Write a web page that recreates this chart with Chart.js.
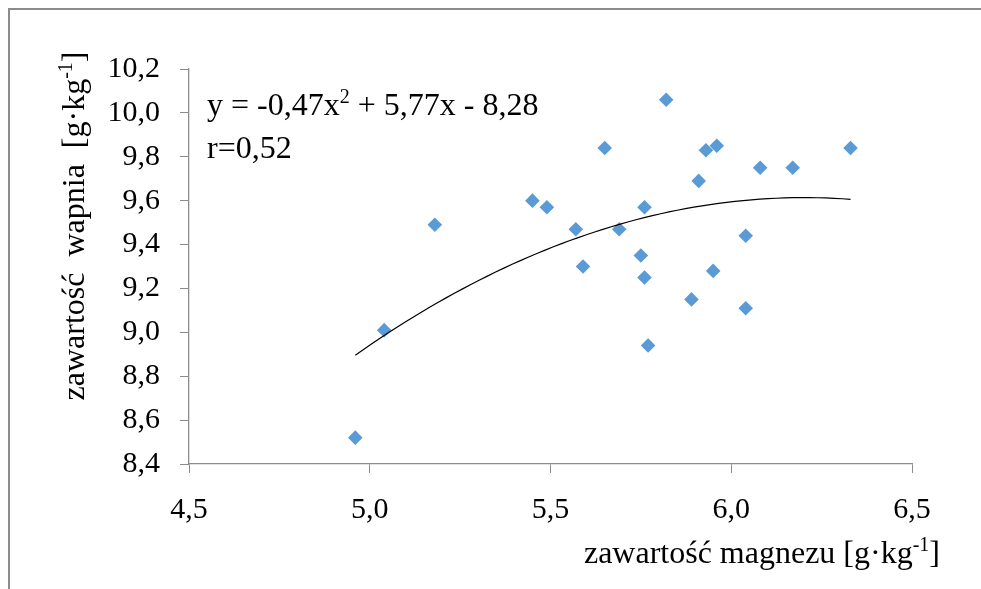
<!DOCTYPE html>
<html>
<head>
<meta charset="utf-8">
<script src="https://cdn.jsdelivr.net/npm/chart.js@4.4.1/dist/chart.umd.min.js"></script>
<style>
  html, body { margin: 0; padding: 0; background: #fff; }
  #wykres { display: block; }
</style>
</head>
<body>
<canvas id="wykres" width="981" height="589"></canvas>
<script>
// zawartość magnezu (oś X) i wapnia (oś Y), g·kg-1
const magnez = [4.96, 5.04, 5.18, 5.45, 5.49, 5.57, 5.59, 5.65, 5.69, 5.75, 5.76, 5.76,
                5.77, 5.82, 5.89, 5.91, 5.93, 5.95, 5.96, 6.04, 6.04, 6.08, 6.17, 6.33];
const wapn   = [8.52, 9.01, 9.49, 9.60, 9.57, 9.47, 9.30, 9.84, 9.47, 9.35, 9.57, 9.25,
                8.94, 10.06, 9.15, 9.69, 9.83, 9.28, 9.85, 9.44, 9.11, 9.75, 9.75, 9.84];

// etykiety osi
const xTicks = [4.5, 5.0, 5.5, 6.0, 6.5];
const yTicks = [8.4, 8.6, 8.8, 9.0, 9.2, 9.4, 9.6, 9.8, 10.0, 10.2];

const wspR = 'r=0,52';

// linia trendu: wielomian 2. stopnia dopasowany metodą najmniejszych kwadratów
function dopasuj(xs, ys) {
  let s = [0, 0, 0, 0, 0], t = [0, 0, 0];
  xs.forEach((x, i) => {
    for (let k = 0; k < 5; k++) s[k] += Math.pow(x, k);
    for (let k = 0; k < 3; k++) t[k] += Math.pow(x, k) * ys[i];
  });
  // układ 3x3 rozwiązany eliminacją Gaussa
  const m = [
    [s[0], s[1], s[2], t[0]],
    [s[1], s[2], s[3], t[1]],
    [s[2], s[3], s[4], t[2]]
  ];
  for (let i = 0; i < 3; i++) {
    for (let j = i + 1; j < 3; j++) {
      const f = m[j][i] / m[i][i];
      for (let k = i; k < 4; k++) m[j][k] -= f * m[i][k];
    }
  }
  const c = [0, 0, 0];
  for (let i = 2; i >= 0; i--) {
    let v = m[i][3];
    for (let k = i + 1; k < 3; k++) v -= m[i][k] * c[k];
    c[i] = v / m[i][i];
  }
  return c; // c0 + c1 x + c2 x^2
}

const wsp = dopasuj(magnez, wapn);
const xMin = Math.min(...magnez), xMax = Math.max(...magnez);
const trend = [];
for (let i = 0; i <= 60; i++) {
  const x = xMin + (xMax - xMin) * i / 60;
  trend.push({ x: x, y: wsp[0] + wsp[1] * x + wsp[2] * x * x });
}

const szary = '#8c8c8c';
const czcionka = '"Liberation Serif", "Times New Roman", serif';
const przecinek = v => Number(v).toFixed(1).replace('.', ',');

// rysuje tekst z indeksem górnym: czesci = [[tekst, czyIndeks], ...]
function tekstZIndeksem(ctx, czesci, x, y, size, align) {
  const duza = size + 'px ' + czcionka;
  const mala = Math.round(size * 0.62) + 'px ' + czcionka;
  let szer = 0;
  czesci.forEach(([t, sup]) => { ctx.font = sup ? mala : duza; szer += ctx.measureText(t).width; });
  let px = align === 'right' ? x - szer : align === 'center' ? x - szer / 2 : x;
  ctx.textAlign = 'left';
  ctx.textBaseline = 'alphabetic';
  czesci.forEach(([t, sup]) => {
    ctx.font = sup ? mala : duza;
    ctx.fillText(t, px, sup ? y - size * 0.36 : y);
    px += ctx.measureText(t).width;
  });
}

const opisy = {
  id: 'opisy',
  beforeDraw(chart) {
    const ctx = chart.ctx;
    ctx.save();
    ctx.strokeStyle = szary;
    ctx.lineWidth = 2;
    ctx.beginPath();
    ctx.moveTo(9, 589);
    ctx.lineTo(9, 9);
    ctx.lineTo(981, 9);
    ctx.stroke();
    ctx.restore();
  },
  afterDraw(chart) {
    const ctx = chart.ctx;
    ctx.save();
    ctx.fillStyle = '#000';
    // równanie i współczynnik korelacji
    tekstZIndeksem(ctx, [['y = -0,47x', false], ['2', true], [' + 5,77x - 8,28', false]], 207, 115, 32, 'left');
    tekstZIndeksem(ctx, [[wspR, false]], 207, 158, 32, 'left');
    // tytuł osi X
    tekstZIndeksem(ctx, [['zawartość magnezu [g·kg', false], ['-1', true], [']', false]], 940, 563, 32, 'right');
    // tytuł osi Y
    ctx.translate(84, 226);
    ctx.rotate(-Math.PI / 2);
    tekstZIndeksem(ctx, [['zawartość  wapnia  [g·kg', false], ['-1', true], [']', false]], 0, 0, 32, 'center');
    ctx.restore();
  }
};

const ctx = document.getElementById('wykres').getContext('2d');

new Chart(ctx, {
  type: 'scatter',
  data: {
    datasets: [
      {
        label: 'pomiary',
        data: magnez.map((x, i) => ({ x: x, y: wapn[i] })),
        pointStyle: 'rectRot',
        pointRadius: 7.3,
        backgroundColor: '#5b9bd5',
        borderColor: '#5b9bd5',
        borderWidth: 0,
        order: 1
      },
      {
        type: 'line',
        label: 'trend',
        data: trend,
        borderColor: '#000',
        borderWidth: 1.2,
        pointRadius: 0,
        fill: false,
        tension: 0,
        order: 0
      }
    ]
  },
  options: {
    responsive: false,
    animation: false,
    layout: { padding: { left: 0, top: 69, right: 69, bottom: 0 } },
    plugins: { legend: { display: false }, tooltip: { enabled: false } },
    scales: {
      x: {
        type: 'linear',
        min: 4.5,
        max: 6.5,
        afterBuildTicks: s => { s.ticks = xTicks.map(v => ({ value: v })); },
        afterFit: s => { s.height = 125; },
        grid: { drawOnChartArea: false, tickLength: 9, color: szary },
        border: { color: szary, width: 1.3 },
        ticks: {
          padding: 19,
          maxRotation: 0,
          color: '#000',
          font: { family: czcionka, size: 30 },
          callback: przecinek
        }
      },
      y: {
        type: 'linear',
        min: 8.4,
        max: 10.2,
        afterBuildTicks: s => { s.ticks = yTicks.map(v => ({ value: v })); },
        afterFit: s => { s.width = 189; },
        grid: { drawOnChartArea: false, tickLength: 9, color: szary },
        border: { color: szary, width: 1.3 },
        ticks: {
          padding: 20,
          color: '#000',
          font: { family: czcionka, size: 30 },
          callback: przecinek
        }
      }
    }
  },
  plugins: [opisy]
});
</script>
</body>
</html>
